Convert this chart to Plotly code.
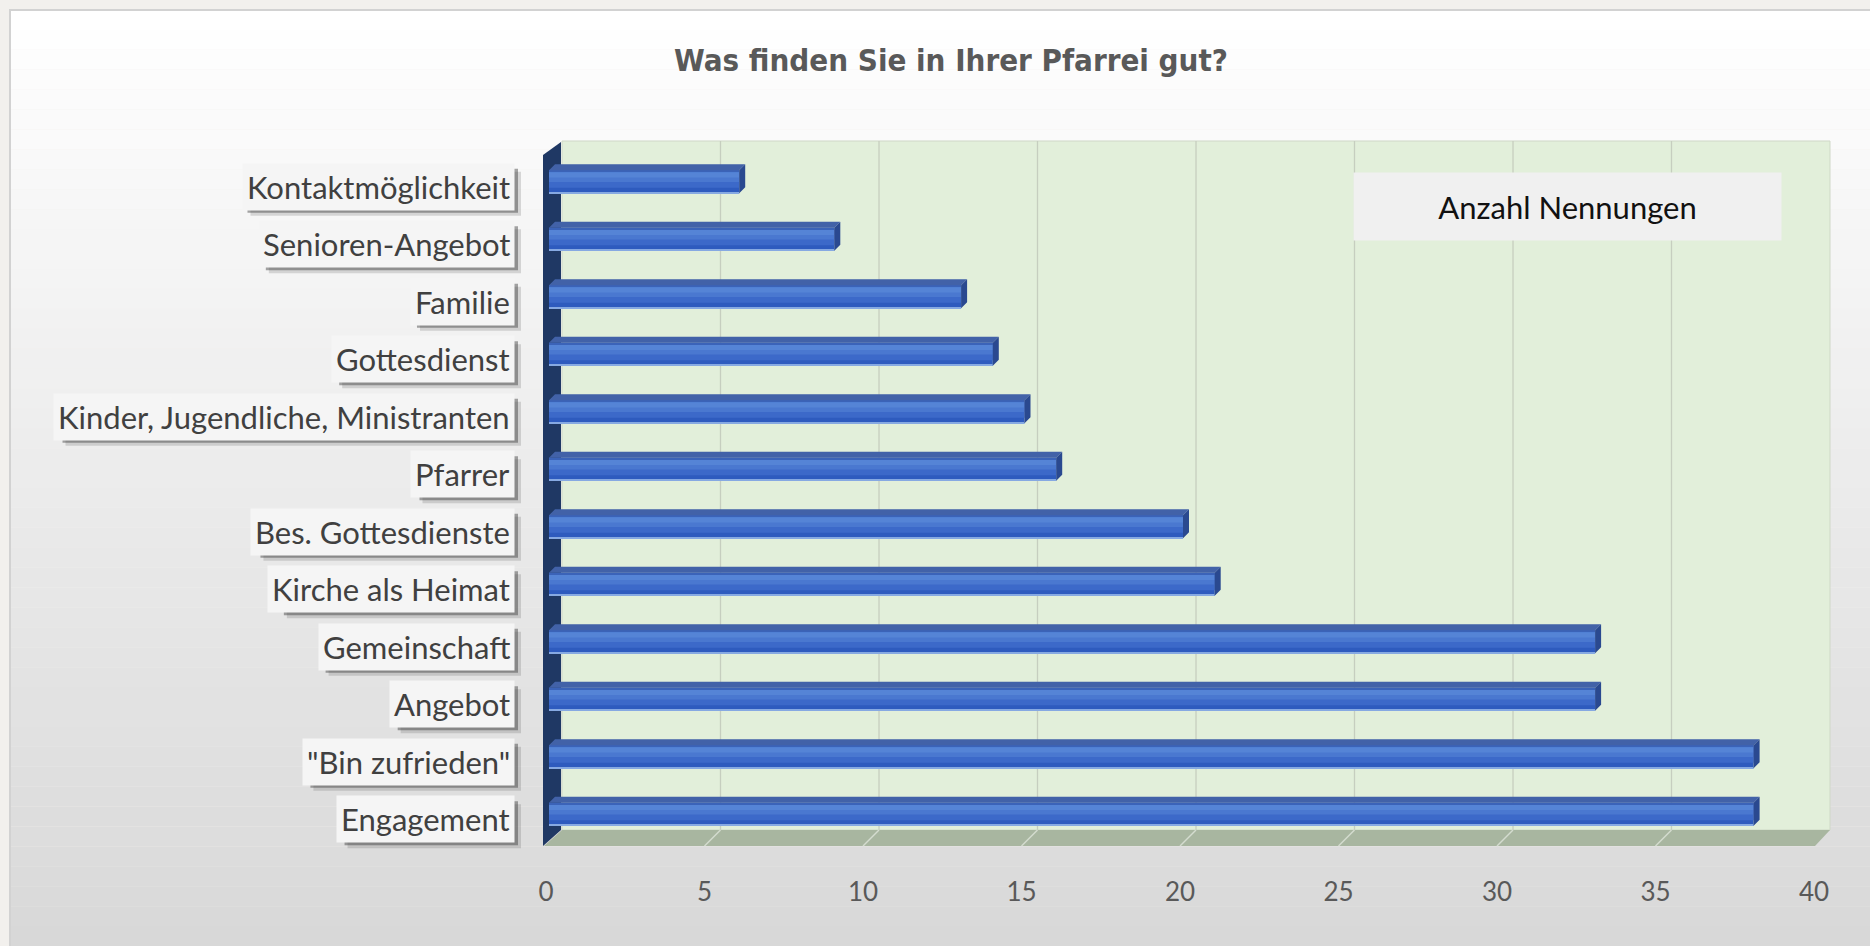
import plotly.graph_objects as go

# ---------------- data ----------------
categories = ["Engagement", "\"Bin zufrieden\"", "Angebot", "Gemeinschaft",
              "Kirche als Heimat", "Bes. Gottesdienste", "Pfarrer",
              "Kinder, Jugendliche, Ministranten", "Gottesdienst", "Familie",
              "Senioren-Angebot", "Kontaktmöglichkeit"]
values = [38, 38, 33, 33, 21, 20, 16, 15, 14, 13, 9, 6]
x_ticks = [0, 5, 10, 15, 20, 25, 30, 35, 40]
series_name = "Anzahl Nennungen"
title_text = "Was finden Sie in Ihrer Pfarrei gut?"

# ---------------- geometry helpers ----------------
W, H = 1870, 946
X0, X1 = 549, 1817          # pixel span of x range [0, 40]
Y_TOP, Y_BOT = 153, 843     # pixel span of the category axis
XMAX = 40
PPU = (X1 - X0) / XMAX
NCAT = len(categories)
CAT_PX = (Y_BOT - Y_TOP) / NCAT


def X(t):
    return X0 + t * PPU


def PX(p):
    return p / W


def PY(p):
    return 1 - p / H


# approximate Lato advance widths (em) used only to size the label shadows
LATO_W = {"a": .50, "b": .56, "c": .46, "d": .56, "e": .52, "f": .32, "g": .50,
          "h": .56, "i": .24, "j": .24, "k": .50, "l": .24, "m": .83, "n": .56,
          "o": .56, "p": .56, "q": .56, "r": .36, "s": .42, "t": .35, "u": .56,
          "v": .50, "w": .76, "x": .49, "y": .50, "z": .45, "ö": .56,
          "A": .66, "B": .63, "E": .55, "F": .53, "G": .71, "I": .28, "J": .38,
          "K": .64, "M": .87, "N": .74, "P": .60, "S": .52, " ": .19, ",": .21,
          ".": .21, "\"": .38, "-": .33}


def text_w(s, size):
    return 1.02 * size * sum(LATO_W.get(ch, .55) for ch in s)


pos = list(range(NCAT))
BW = 0.4
DDX = 6 / PPU
DDY = 6 / CAT_PX

fig = go.Figure()

# main bar + gradient overlays
fig.add_trace(go.Bar(y=pos, x=values, orientation="h", width=BW, offset=-BW / 2,
                     marker=dict(color="#2E5BBE", line=dict(width=0)),
                     name=series_name, showlegend=False, hoverinfo="x"))
for w, c in [(0.27, "#3C69C9"), (0.17, "#4A78D0"), (0.09, "#5584D6")]:
    fig.add_trace(go.Bar(y=pos, x=values, orientation="h", width=w,
                         offset=BW / 2 - w - 0.035,
                         marker=dict(color=c, line=dict(width=0)),
                         showlegend=False, hoverinfo="skip"))
fig.add_trace(go.Bar(y=pos, x=values, orientation="h", width=0.03,
                     offset=BW / 2 - 0.03,
                     marker=dict(color="#3B63B8", line=dict(width=0)),
                     showlegend=False, hoverinfo="skip"))
fig.add_trace(go.Bar(y=pos, x=values, orientation="h", width=0.02,
                     offset=-BW / 2,
                     marker=dict(color="#86A9E2", line=dict(width=0)),
                     showlegend=False, hoverinfo="skip"))

# 3D top faces and end faces
tx, ty, sx, sy = [], [], [], []
for p, v in zip(pos, values):
    top = p + BW / 2
    bot = p - BW / 2
    tx += [0, v, v + DDX, DDX, 0, None]
    ty += [top, top, top + DDY, top + DDY, top, None]
    sx += [v, v, v + DDX, v + DDX, v, None]
    sy += [bot, top, top + DDY, bot + DDY, bot, None]
fig.add_trace(go.Scatter(x=tx, y=ty, mode="lines", fill="toself",
                         fillcolor="#4262A8", line=dict(width=0),
                         showlegend=False, hoverinfo="skip"))
fig.add_trace(go.Scatter(x=sx, y=sy, mode="lines", fill="toself",
                         fillcolor="#2A4990", line=dict(width=0),
                         showlegend=False, hoverinfo="skip"))

shapes = []
# beige frame + gradient panel
NB = 47
y_start, y_end = 10, H
for k in range(NB):
    a = y_start + (y_end - y_start) * k / NB
    b = y_start + (y_end - y_start) * (k + 1) / NB
    f = (k + 0.5) / NB
    g = int(round(255 - (255 - 216) * f))
    shapes.append(dict(type="rect", xref="paper", yref="paper",
                       x0=PX(10), x1=1, y0=PY(b), y1=PY(a),
                       fillcolor=f"rgb({g},{g},{g})", line=dict(width=0),
                       layer="below"))
shapes.append(dict(type="rect", xref="paper", yref="paper",
                   x0=PX(10), x1=1.01, y0=-0.01, y1=PY(10),
                   fillcolor="rgba(0,0,0,0)", line=dict(color="#D2D2D2", width=2),
                   layer="below"))

# back wall
DXB = 13
shapes.append(dict(type="rect", xref="paper", yref="paper",
                   x0=PX(X(0) + DXB), x1=PX(X(XMAX) + DXB), y0=PY(830), y1=PY(141),
                   fillcolor="#E2EFDA", line=dict(color="#CFD8C7", width=1),
                   layer="below"))
for t in x_ticks[1:-1]:
    shapes.append(dict(type="line", xref="paper", yref="paper",
                       x0=PX(X(t) + DXB), x1=PX(X(t) + DXB), y0=PY(830), y1=PY(141),
                       line=dict(color="#C6CEBF", width=1.3), layer="below"))
# floor
shapes.append(dict(type="path", xref="paper", yref="paper",
                   path=f"M {PX(X(0)-5)},{PY(846)} L {PX(X(XMAX)-2)},{PY(846)} "
                        f"L {PX(X(XMAX)+DXB)},{PY(830)} L {PX(X(0)+DXB)},{PY(830)} Z",
                   fillcolor="#A8B6A0", line=dict(width=0), layer="below"))
for t in x_ticks[1:-1]:
    shapes.append(dict(type="line", xref="paper", yref="paper",
                       x0=PX(X(t) - 3), x1=PX(X(t) + DXB), y0=PY(846), y1=PY(830),
                       line=dict(color="#D4DCCF", width=1.5), layer="below"))
# left wall
shapes.append(dict(type="path", xref="paper", yref="paper",
                   path=f"M {PX(543)},{PY(155)} L {PX(561)},{PY(142)} "
                        f"L {PX(561)},{PY(830)} L {PX(543)},{PY(846)} Z",
                   fillcolor="#1F3864", line=dict(width=0), layer="below"))

annotations = []
LABEL_FONT = "Lato, 'Open Sans', sans-serif"
LABEL_SIZE = 31
LABEL_RIGHT = 515
LABEL_PAD = 4
LABEL_DY = 5
BOX_HALF_H = 22
for p, c in zip(pos, categories):
    cy = Y_TOP + (NCAT - 0.5 - p) * CAT_PX + LABEL_DY
    bw = text_w(c, LABEL_SIZE) + 2 * LABEL_PAD
    # soft drop shadow (two layers)
    for off, alpha in [(7, 0.18), (4, 0.45)]:
        shapes.append(dict(type="rect", xref="paper", yref="paper",
                           x0=PX(LABEL_RIGHT - bw + off + 4), x1=PX(LABEL_RIGHT + off - 1),
                           y0=PY(cy + BOX_HALF_H + off), y1=PY(cy - BOX_HALF_H + off),
                           fillcolor=f"rgba(60,60,60,{alpha})", line=dict(width=0),
                           layer="below"))
    annotations.append(dict(xref="paper", yref="y", x=PX(LABEL_RIGHT), y=p,
                            xanchor="right", yanchor="middle", text=c, showarrow=False,
                            font=dict(family=LABEL_FONT, size=LABEL_SIZE, color="#404040"),
                            bgcolor="#F5F5F5", borderpad=LABEL_PAD, yshift=-LABEL_DY))

# legend-like box
annotations.append(dict(xref="paper", yref="paper", x=PX(1567), y=PY(206),
                        xanchor="center", yanchor="middle", text=series_name,
                        showarrow=False, width=425, height=65, bgcolor="#F0F0F0",
                        font=dict(family=LABEL_FONT, size=31, color="#111111")))

fig.update_layout(
    width=W, height=H,
    autosize=False,
    margin=dict(l=0, r=0, t=0, b=0, pad=0, autoexpand=False),
    paper_bgcolor="#F2F0ED",
    plot_bgcolor="rgba(0,0,0,0)",
    barmode="overlay",
    showlegend=False,
    title=dict(text=f"<b>{title_text}</b>", x=PX(951), xanchor="center",
               y=PY(60), yanchor="middle", xref="paper", yref="paper",
               automargin=False,
               font=dict(family="'DejaVu Sans Condensed', 'DejaVu Sans', sans-serif",
                         size=31, color="#595959")),
    xaxis=dict(domain=[PX(X0), PX(X1)], range=[0, XMAX], tickvals=x_ticks,
               showgrid=False, zeroline=False, showline=False, automargin=False,
               ticks="", ticklabelstandoff=31, ticklabelshift=-3,
               tickfont=dict(family=LABEL_FONT, size=26, color="#595959"),
               fixedrange=True),
    yaxis=dict(domain=[PY(Y_BOT), PY(Y_TOP)], range=[-0.5, NCAT - 0.5],
               showgrid=False, zeroline=False, showline=False, showticklabels=False,
               automargin=False, fixedrange=True),
    shapes=shapes,
    annotations=annotations,
)

fig.write_html("out.html", config={"displayModeBar": False},
               post_script="document.body.style.margin='0px';"
                           "document.body.style.overflow='hidden';")
